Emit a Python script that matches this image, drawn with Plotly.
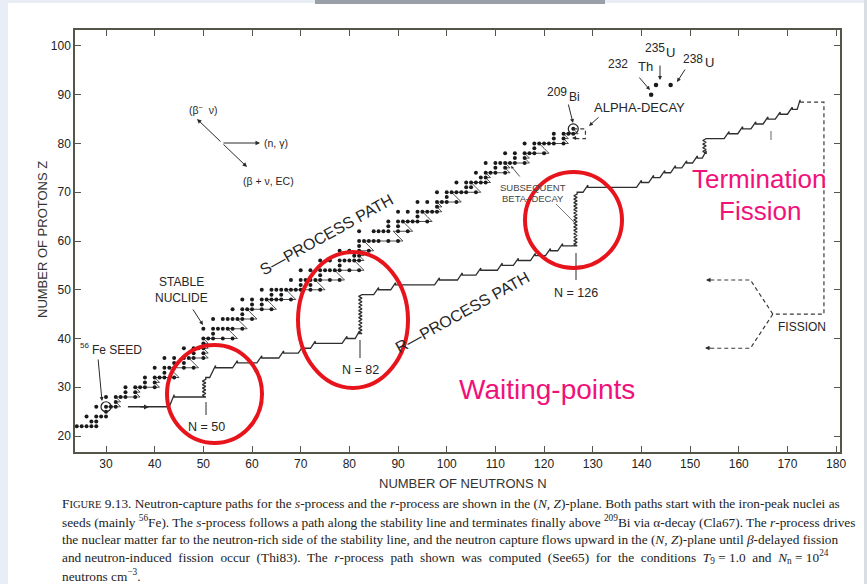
import plotly.graph_objects as go

# ---------------- data (N = neutrons, Z = protons) ----------------
stable_Z = [22, 23, 24, 25, 26, 27, 28, 29, 30, 31, 32, 33, 34, 35, 36, 37, 38, 39, 40, 41,
            42, 44, 45, 46, 47, 48, 49, 50, 51, 52, 53, 54, 55, 56, 57, 58, 59, 60, 62, 63,
            64, 65, 66, 67, 68, 69, 70, 71, 72, 73, 74, 75, 76, 77, 78, 79, 80, 81, 82, 83]
stable_N = [
    [24, 25, 26, 27, 28], [27, 28], [26, 28, 29, 30], [30], [28, 30, 31, 32], [32],
    [30, 32, 33, 34, 36], [34, 36], [34, 36, 37, 38, 40], [38, 40], [38, 40, 41, 42, 44],
    [42], [40, 42, 43, 44, 46, 48], [44, 46], [42, 44, 46, 47, 48, 50], [48, 50],
    [46, 48, 49, 50], [50], [50, 51, 52, 54, 56], [52], [50, 52, 53, 54, 55, 56, 58],
    [52, 54, 55, 56, 57, 58, 60], [58], [56, 58, 59, 60, 62, 64], [60, 62],
    [58, 60, 62, 63, 64, 65, 66, 68], [64, 66], [62, 64, 65, 66, 67, 68, 69, 70, 72, 74],
    [70, 72], [68, 70, 71, 72, 73, 74, 76, 78], [74], [70, 72, 74, 75, 76, 77, 78, 80, 82],
    [78], [74, 76, 78, 79, 80, 81, 82], [81, 82], [78, 80, 82, 84], [82],
    [82, 83, 84, 85, 86, 88, 90], [82, 85, 86, 87, 88, 90, 92], [88, 90],
    [88, 90, 91, 92, 93, 94, 96], [94], [90, 92, 94, 95, 96, 97, 98], [98],
    [94, 96, 98, 99, 100, 102], [100], [98, 100, 101, 102, 103, 104, 106], [104, 105],
    [102, 104, 105, 106, 107, 108], [107, 108], [106, 108, 109, 110, 112], [110, 112],
    [108, 110, 111, 112, 113, 114, 116], [114, 116], [112, 114, 116, 117, 118, 120], [118],
    [116, 118, 119, 120, 121, 122, 124], [122, 124], [122, 124, 125, 126], [126],
]
circled_N = [30, 126]      # 56Fe seed, 209Bi
circled_Z = [26, 83]
actinide_N = [142, 143, 146]   # 232Th, 235U, 238U
actinide_Z = [90, 92, 92]

# r-process path: horizontal runs (Z, from N0 to N1)
r_Z = [26, 28, 32, 34, 35, 36, 37, 38, 39, 40, 41,
       49, 50, 51, 52, 53, 54, 55, 56, 57, 58, 59,
       70, 71, 72, 73, 74, 75, 76, 77, 78,
       81, 82, 83, 84, 85, 86, 87, 88.5]
r_N0 = [34.5, 44, 50.5, 52.5, 57, 62, 66.5, 70.5, 73, 79.5, 82,
        82.6, 86, 89.5, 98.5, 103.2, 107, 111.4, 114.7, 118.2, 121.3, 123.8,
        126.8, 129, 140, 142.5, 144.8, 147, 149.3, 151.5, 153.3,
        153.3, 158, 160.8, 163.5, 166, 168.5, 171, 172.6]
r_N1 = [43, 50.5, 51.3, 56, 61, 65.5, 69.5, 72, 78.5, 81.2, 82.6,
        85, 88.5, 97.5, 102.2, 106, 110.4, 113.7, 117.2, 120.3, 122.8, 126.8,
        128, 139, 141.5, 143.8, 146, 148.3, 150.5, 152.5, 153.3,
        157, 159.8, 162.5, 165, 167.5, 170, 172, 172.6]

alpha_N = [126, 128.5, 128.5, 126.3]
alpha_Z = [83, 83, 81, 81]
fission_N = [172.6, 177.5, 177.5, 167.0]
fission_Z = [88.5, 88.5, 45.0, 45.0]
fis_up_N = [167.0, 162.4, 153.8]
fis_up_Z = [45.0, 52.0, 52.0]
fis_dn_N = [167.0, 162.4, 153.8]
fis_dn_Z = [45.0, 38.0, 38.0]

x_ticks = list(range(30, 181, 10))
y_ticks = list(range(20, 101, 10))

# ---------------- derived paths ----------------
stable_set = {(n, z) for z, ns in zip(stable_Z, stable_N) for n in ns}
dots_N = [n for z, ns in zip(stable_Z, stable_N) for n in ns]
dots_Z = [z for z, ns in zip(stable_Z, stable_N) for _ in ns]

# s-process: capture neutrons while stable (or next is stable), else beta decay
sN, sZ = [circled_N[0]], [circled_Z[0]]
n, z = circled_N[0], circled_Z[0]
while (n, z) != (circled_N[1], circled_Z[1]) and z <= 83:
    if (n, z) in stable_set or (n + 1, z) in stable_set:
        n += 1
    else:
        n, z = n - 1, z + 1
    sN.append(n)
    sZ.append(z)

# r-process path polyline
rx, ry = [], []
for i, (zz, a, b) in enumerate(zip(r_Z, r_N0, r_N1)):
    if i > 0:
        pz, pb = r_Z[i - 1], r_N1[i - 1]
        if abs(a - pb) < 0.05:          # waiting point: saw-tooth vertical
            k = int((zz - pz) / 0.35)
            for j in range(1, k):
                rx.append(pb - (0.7 if j % 2 else 0.0))
                ry.append(pz + j * (zz - pz) / k)
            rx.append(a); ry.append(zz)
        else:                            # small beta-decay step
            rx += [a, a]
            ry += [zz + 0.45, zz]
    else:
        rx.append(a); ry.append(zz)
    rx.append(b); ry.append(zz)

# ---------------- figure ----------------
AX = '#55554a'
TXT = '#262626'
SANS = 'Liberation Sans, Arial, sans-serif'
SERIF = 'Liberation Serif, Times New Roman, serif'
PINK = '#f0127a'
RED = '#e8141c'

fig = go.Figure()
fig.add_trace(go.Scatter(x=sN, y=sZ, mode='lines', line=dict(color='#3a3a3a', width=0.9), hoverinfo='skip'))
fig.add_trace(go.Scatter(x=dots_N, y=dots_Z, mode='markers', marker=dict(size=4, color='#1a1a1a'), name='stable'))
fig.add_trace(go.Scatter(x=rx, y=ry, mode='lines', line=dict(color='#2e2e2e', width=1.3), name='r-path'))
for xs, ys in [(fission_N, fission_Z), (fis_up_N, fis_up_Z), (fis_dn_N, fis_dn_Z), (alpha_N, alpha_Z)]:
    fig.add_trace(go.Scatter(x=xs, y=ys, mode='lines', line=dict(color='#3a3a3a', width=1.2, dash='4px,3px')))
fig.add_trace(go.Scatter(x=circled_N, y=circled_Z, mode='markers',
                         marker=dict(size=10, color='rgba(0,0,0,0)', line=dict(color='#222', width=1.2))))
fig.add_trace(go.Scatter(x=actinide_N, y=actinide_Z, mode='markers', marker=dict(size=4.5, color='#1a1a1a')))

W, H = 867, 584
L, R, T, B = 75, 840, 30, 452


def px(x):
    return (x - L) / (R - L)


def py(y):
    return (B - y) / (B - T)


ann = []


def text(x, y, s, size=11, color=TXT, angle=0, xanchor='center', family=SANS):
    ann.append(dict(x=px(x), y=py(y), xref='paper', yref='paper', text=s, showarrow=False,
                    font=dict(size=size, color=color, family=family), textangle=angle,
                    xanchor=xanchor, yanchor='middle'))


def arrow(x0, y0, x1, y1, head=2, width=1.0, size=0.9, color='#2a2a2a'):
    ann.append(dict(x=px(x1), y=py(y1), xref='paper', yref='paper', ax=x0 - x1, ay=y0 - y1,
                    text='', showarrow=True, arrowhead=head, arrowwidth=width, arrowsize=size,
                    arrowcolor=color, standoff=0, startstandoff=0))


shapes = []


def seg(x0, y0, x1, y1, color='#2a2a2a', width=1.0):
    shapes.append(dict(type='line', xref='paper', yref='paper', x0=px(x0), y0=py(y0),
                       x1=px(x1), y1=py(y1), line=dict(color=color, width=width)))


def rect(x0, y0, x1, y1, color):
    shapes.append(dict(type='rect', xref='paper', yref='paper', x0=px(x0), y0=py(y0),
                       x1=px(x1), y1=py(y1), line=dict(width=0), fillcolor=color, layer='below'))


def ring(x0, y0, x1, y1):
    shapes.append(dict(type='circle', xref='paper', yref='paper', x0=px(x0), y0=py(y1),
                       x1=px(x1), y1=py(y0), line=dict(color=RED, width=4)))


# page frame
rect(0, 0, 8, H, '#e9edf6')
rect(0, 0, W, 3, '#e9edf6')
rect(864, 0, W, H, '#d9dde4')
rect(315, 0, 605, 4, '#9aa0a8')

# decay-mode diagram
arrow(222, 143, 260, 143)
arrow(222, 143, 197, 119)
arrow(222, 143, 247, 167)
text(203, 110, '(β<sup>−</sup>  ν)', size=10.5)
text(262, 143, '(n, γ)', size=10.5, xanchor='left')
text(268, 181, '(β + ν, EC)', size=10.5)

# labels
text(327, 235, 'S—PROCESS PATH', size=16, angle=-29)
text(462, 312, 'R—PROCESS PATH', size=16, angle=-29)
text(181, 282, 'STABLE', size=12)
text(181, 298, 'NUCLIDE', size=12)
arrow(192, 308, 203, 325, size=0.8)
text(84, 345, '56', size=8)
text(117, 350, 'Fe SEED', size=12)
arrow(98, 358, 102, 401, size=0.8)
arrow(139, 407, 149, 407, size=1.0)

text(206, 427, 'N = 50', size=12.5)
seg(206, 402, 206, 415)
text(360, 370, 'N = 82', size=12.5)
seg(360, 340, 360, 358)
text(576, 293, 'N = 126', size=12.5)
seg(576, 253, 576, 280)
text(533, 187, 'SUBSEQUENT', size=9.5, color='#444')
text(533, 198, 'BETA–DECAY', size=9.5, color='#444')
arrow(521, 178, 511, 166, size=0.7, width=0.8)
seg(556, 204, 574, 222, color='#555', width=0.8)

text(557, 92, '209', size=12)
text(574, 97, 'Bi', size=12)
arrow(568, 103, 573, 123, size=0.8)
text(639, 107, 'ALPHA-DECAY', size=13)
arrow(600, 116, 589, 126, size=0.8)
arrow(578, 138, 572, 138, size=0.8)
text(655, 48, '235', size=12)
text(670, 53, 'U', size=13)
arrow(660, 64, 660, 80, size=0.8)
text(618, 64, '232', size=12)
text(645, 67, 'Th', size=13)
arrow(638, 76, 650, 90, size=0.8)
text(693, 59, '238', size=12)
text(709, 63, 'U', size=13)
arrow(686, 68, 677, 82, size=0.8)
seg(771, 131, 771, 140, color='#666', width=1)

text(802, 327, 'FISSION', size=12)
arrow(712, 280, 706, 280, size=0.9)
arrow(712, 348, 705, 348, size=0.9)

# highlight circles and notes
ring(167, 345, 262, 443)
ring(298, 252, 408, 388)
ring(525, 172, 622, 268)
text(759, 179, 'Termination', size=26, color=PINK)
text(760, 211, 'Fission', size=26, color=PINK)
text(547, 389, 'Waiting-points', size=28, color=PINK)

# axis titles
text(42, 240, 'NUMBER OF PROTONS Z', size=13, angle=-90, color='#333')
text(463, 484, 'NUMBER OF NEUTRONS N', size=13, color='#333')

# caption
cap = [
    'F<span style="font-size:10.5px">IGURE</span> 9.13. Neutron-capture paths for the <i>s</i>-process and the <i>r</i>-process are shown in the (<i>N, Z</i>)-plane. Both paths start with the iron-peak nuclei as',
    'seeds (mainly <sup>56</sup>Fe). The <i>s</i>-process follows a path along the stability line and terminates finally above <sup>209</sup>Bi via α-decay (Cla67). The <i>r</i>-process drives',
    'the nuclear matter far to the neutron-rich side of the stability line, and the neutron capture flows upward in the (<i>N, Z</i>)-plane until <i>β</i>-delayed fission',
    'and neutron-induced&nbsp; fission&nbsp; occur&nbsp; (Thi83).&nbsp; The&nbsp; <i>r</i>-process&nbsp; path&nbsp; shown&nbsp; was&nbsp; computed&nbsp; (See65)&nbsp; for&nbsp; the&nbsp; conditions&nbsp; <i>T</i><sub>9</sub> = 1.0&nbsp; and&nbsp; <i>N</i><sub>n</sub> = 10<sup>24</sup>',
    'neutrons cm<sup>−3</sup>.',
]
for i, line in enumerate(cap):
    text(60, 503 + i * 18, line, size=13.3, xanchor='left', family=SERIF, color='#222')

axis_common = dict(showline=True, linecolor=AX, linewidth=1.5, mirror='ticks', ticks='inside',
                   ticklen=6, tickwidth=1.2, tickcolor=AX, showgrid=False, zeroline=False,
                   tickfont=dict(size=12, color='#222', family=SANS))
fig.update_layout(
    width=W, height=H, margin=dict(l=L, r=W - R, t=T, b=H - B),
    paper_bgcolor='white', plot_bgcolor='white', showlegend=False,
    xaxis=dict(range=[23.63, 180.8], tickvals=x_ticks, **axis_common),
    yaxis=dict(range=[16.72, 103.28], tickvals=y_ticks, **axis_common),
    annotations=ann, shapes=shapes,
)
fig.write_html('out.html')
